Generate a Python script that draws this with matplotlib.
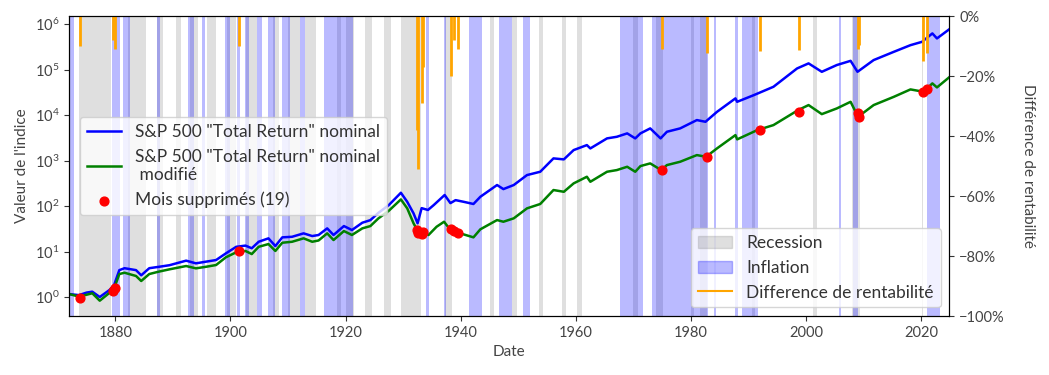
import matplotlib
matplotlib.use("Agg")
import matplotlib.pyplot as plt
from matplotlib.ticker import PercentFormatter, NullLocator
from matplotlib.patches import Patch
from matplotlib.lines import Line2D

plt.rcParams['font.family'] = ['Lato', 'DejaVu Sans']

# S&P 500 total return, nominal (decimal years)
years_b = [1872.0, 1873.7, 1875.0, 1876.0, 1877.3, 1879.0, 1879.8, 1880.7, 1881.6, 1883.6,
           1884.5, 1885.9, 1887.5, 1889.4, 1892.3, 1894.0, 1895.8, 1897.5, 1899.2, 1901.0,
           1902.6, 1903.7, 1904.9, 1906.6, 1907.8, 1909.0, 1910.7, 1912.7, 1914.2, 1915.3,
           1916.8, 1917.9, 1919.7, 1921.1, 1922.9, 1924.3, 1925.7, 1927.5, 1929.6, 1930.7,
           1931.8, 1932.5, 1933.2, 1934.3, 1935.3, 1937.2, 1938.2, 1939.1, 1940.5, 1942.2,
           1943.4, 1946.3, 1947.4, 1949.2, 1951.5, 1953.8, 1956.1, 1957.9, 1959.6, 1961.9,
           1962.5, 1965.4, 1967.1, 1968.9, 1970.3, 1971.2, 1972.9, 1974.7, 1975.8, 1978.1,
           1981.0, 1982.5, 1984.5, 1987.7, 1988.0, 1990.9, 1994.3, 1998.4, 2000.4, 2002.7,
           2005.3, 2007.7, 2008.9, 2011.7, 2015.2, 2018.1, 2020.1, 2021.9, 2022.7, 2024.8]
vals_b = [1.16, 1.10, 1.25, 1.31, 1.0, 1.43, 1.84, 3.9, 4.3, 3.9,
          3.0, 4.3, 4.6, 5.0, 6.3, 5.5, 6.0, 6.5, 9.1, 12.7,
          13.5, 11.8, 16.4, 19.5, 13.2, 20.5, 21.1, 25.1, 21.9, 23.1,
          32.3, 23.1, 36.3, 29.7, 43, 49, 71, 105, 196, 124,
          69, 41.7, 90, 82, 105, 175, 116, 135, 124, 111,
          160, 290, 236, 290, 480, 568, 1117, 1062, 1700, 2190,
          1850, 3075, 3335, 3960, 3075, 3960, 5100, 3075, 4300, 5100,
          7770, 7130, 11800, 23300, 19600, 27500, 41900, 106000, 137000, 89500,
          126000, 156000, 89500, 162000, 246000, 345000, 408000, 625000, 485000, 765000]

# same index with the removed months taken out
years_g = [1872.0, 1873.7, 1875.0, 1876.0, 1877.3, 1879.0, 1879.8, 1880.7, 1881.6, 1883.6,
           1884.5, 1885.9, 1887.5, 1889.4, 1892.3, 1894.0, 1895.8, 1897.5, 1899.2, 1901.2,
           1902.6, 1903.7, 1904.9, 1906.6, 1907.8, 1909.0, 1910.7, 1912.7, 1914.2, 1915.3,
           1916.8, 1917.9, 1919.7, 1921.1, 1922.9, 1924.3, 1925.7, 1927.5, 1929.6, 1930.7,
           1931.8, 1932.6, 1933.2, 1934.4, 1935.8, 1937.1, 1938.2, 1939.9, 1942.2, 1943.4,
           1946.3, 1947.4, 1949.2, 1951.5, 1953.8, 1956.1, 1957.9, 1959.6, 1961.9, 1962.5,
           1965.4, 1967.1, 1968.9, 1970.3, 1971.2, 1972.9, 1974.8, 1975.8, 1978.1, 1981.0,
           1982.6, 1984.5, 1987.7, 1988.0, 1991.5, 1994.3, 1998.6, 2000.4, 2002.7, 2005.3,
           2007.7, 2009.0, 2011.7, 2015.2, 2018.1, 2020.4, 2021.9, 2022.7, 2024.8]
vals_g = [1.16, 1.02, 1.12, 1.21, 0.83, 1.24, 1.55, 3.2, 3.42, 2.9,
          2.25, 3.2, 3.6, 4.06, 4.8, 4.27, 4.63, 5.05, 7.46, 9.9,
          10.3, 8.8, 12.7, 14.6, 10.3, 15.6, 16.4, 19.5, 16.4, 17.5,
          25.1, 17.9, 28.2, 23.1, 32.3, 36.3, 53.7, 78.8, 140, 89,
          41.7, 27.2, 25.5, 23.1, 35.1, 45.2, 29.7, 25.1, 20.5, 30.8,
          49.2, 45.2, 53.7, 89, 111, 225, 206, 315, 441, 342,
          568, 618, 731, 568, 757, 867, 618, 796, 942, 1320,
          1213, 1853, 3630, 2924, 4680, 6025, 12900, 16600, 10500, 14000,
          19600, 9180, 16600, 25200, 36700, 32500, 49800, 40600, 67400]

# removed months: date, value on the modified index, return difference
removed_dates = [1873.9, 1879.6, 1879.9, 1901.5, 1932.4, 1932.6, 1933.3, 1933.5, 1938.3, 1938.9,
                 1939.6, 1975.0, 1982.7, 1991.9, 1998.8, 2008.9, 2009.2, 2020.3, 2020.9]
removed_vals = [0.94, 1.35, 1.55, 10.4, 29.7, 25.1, 24.2, 27.2, 30.7, 28.6,
                25.9, 618, 1213, 4680, 11800, 10900, 8900, 32000, 36700]
removed_diff = [-0.10, -0.08, -0.11, -0.10, -0.38, -0.51, -0.29, -0.17, -0.20, -0.08,
                -0.11, -0.108, -0.122, -0.116, -0.114, -0.108, -0.095, -0.148, -0.122]

recessions = [(1873.75, 1879.17), (1882.17, 1885.33), (1887.17, 1888.25), (1890.5, 1891.33),
              (1893.0, 1894.42), (1895.92, 1897.42), (1899.42, 1900.92), (1902.67, 1904.58),
              (1907.33, 1908.42), (1910.0, 1912.0), (1913.0, 1914.92), (1918.58, 1919.17),
              (1920.0, 1921.5), (1923.33, 1924.5), (1926.75, 1927.83), (1929.58, 1933.17),
              (1937.33, 1938.42), (1945.08, 1945.75), (1948.83, 1949.75), (1953.5, 1954.33),
              (1957.58, 1958.25), (1960.25, 1961.08), (1969.92, 1970.83), (1973.83, 1975.17),
              (1980.0, 1980.5), (1981.5, 1982.83), (1990.5, 1991.17), (2001.17, 2001.83),
              (2007.92, 2009.42), (2020.08, 2020.25)]

inflation = [(1872.0, 1872.8), (1879.4, 1880.8), (1881.4, 1882.6), (1887.2, 1887.7),
             (1892.7, 1893.6), (1895.0, 1895.5), (1899.1, 1900.0), (1901.1, 1901.7),
             (1902.6, 1903.3), (1904.6, 1905.5), (1906.6, 1907.8), (1909.0, 1910.4),
             (1912.1, 1913.0), (1916.2, 1921.2), (1925.9, 1926.0), (1934.0, 1934.4),
             (1937.1, 1937.5), (1941.5, 1943.7), (1946.6, 1948.9), (1950.8, 1952.1),
             (1967.7, 1971.7), (1973.2, 1982.9), (1983.9, 1984.4), (1987.7, 1988.1),
             (1988.85, 1991.6), (2005.75, 2006.0), (2008.1, 2008.9), (2020.9, 2023.3)]

fig, ax = plt.subplots(figsize=(10.49, 3.75), dpi=100)
fig.subplots_adjust(left=0.066, right=0.905, top=0.957, bottom=0.157)

for s, e in recessions:
    ax.axvspan(s, e, color='gray', alpha=0.25, lw=0, zorder=0)
for s, e in inflation:
    ax.axvspan(s, e, color='blue', alpha=0.27, lw=0, zorder=0)

ax.plot(years_b, vals_b, color='blue', lw=1.8, label='S&P 500 "Total Return" nominal')
ax.plot(years_g, vals_g, color='green', lw=1.8, label='S&P 500 "Total Return" nominal\n modifié')
ax.scatter(removed_dates, removed_vals, color='red', s=40, zorder=5, label='Mois supprimés (19)')

ax.set_yscale('log')
ax.set_ylim(0.38, 1.5e6)
ax.set_xlim(1872.0, 2024.85)
ax.yaxis.set_minor_locator(NullLocator())
ax.set_xticks([1880, 1900, 1920, 1940, 1960, 1980, 2000, 2020])
ax.tick_params(labelsize=10.5, colors='#333333', labelcolor='#444444')
ax.set_xlabel('Date', fontsize=11, color='#444444')
ax.set_ylabel("Valeur de l'indice", fontsize=11, color='#444444')
ax.legend(loc='center left', fontsize=12.5, framealpha=0.8, labelcolor='#333333',
          borderaxespad=0.6)

ax2 = ax.twinx()
ax2.vlines(removed_dates, removed_diff, 0, color='orange', lw=2)
ax2.set_ylim(-1, 0)
ax2.yaxis.set_major_formatter(PercentFormatter(1.0, decimals=0))
ax2.tick_params(labelsize=10.5, colors='#333333', labelcolor='#444444')
ax2.set_ylabel('Différence de rentabilité', fontsize=11, color='#444444', rotation=270, labelpad=22)

handles = [Patch(color='gray', alpha=0.25, label='Recession'),
           Patch(color='blue', alpha=0.27, label='Inflation'),
           Line2D([], [], color='orange', label='Difference de rentabilité')]
ax2.legend(handles=handles, loc='lower right', fontsize=12.5, framealpha=0.8, labelcolor='#333333')

fig.savefig('out.png', dpi=100)
